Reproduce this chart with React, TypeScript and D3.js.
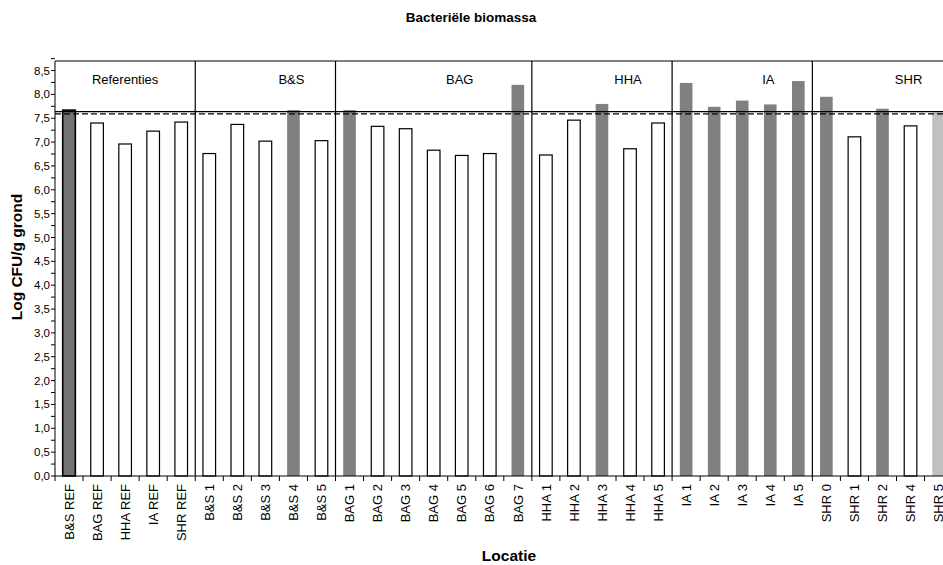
import React from "react";
import * as d3 from "d3";

const categories = [
  "B&S REF", "BAG REF", "HHA REF", "IA REF", "SHR REF",
  "B&S 1", "B&S 2", "B&S 3", "B&S 4", "B&S 5",
  "BAG 1", "BAG 2", "BAG 3", "BAG 4", "BAG 5", "BAG 6", "BAG 7",
  "HHA 1", "HHA 2", "HHA 3", "HHA 4", "HHA 5",
  "IA 1", "IA 2", "IA 3", "IA 4", "IA 5",
  "SHR 0", "SHR 1", "SHR 2", "SHR 4", "SHR 5",
];
const values = [
  7.67, 7.4, 6.96, 7.23, 7.42,
  6.76, 7.37, 7.02, 7.67, 7.03,
  7.67, 7.33, 7.28, 6.83, 6.72, 6.76, 8.2,
  6.73, 7.46, 7.8, 6.86, 7.4,
  8.24, 7.74, 7.87, 7.79, 8.28,
  7.95, 7.11, 7.7, 7.34, 7.62,
];
// bar style: "ref" dark with border, "hi" gray, "lo" white, "last" light gray
const barKinds = [
  "ref", "lo", "lo", "lo", "lo",
  "lo", "lo", "lo", "hi", "lo",
  "hi", "lo", "lo", "lo", "lo", "lo", "hi",
  "lo", "lo", "hi", "lo", "lo",
  "hi", "hi", "hi", "hi", "hi",
  "hi", "lo", "hi", "lo", "last",
];
const groups = ["Referenties", "B&S", "BAG", "HHA", "IA", "SHR"];
const groupSizes = [5, 5, 7, 5, 5, 5];
const yTicks = d3.range(0, 8.51, 0.5);
const yMinorTicks = d3.range(0, 8.76, 0.25);
const refSolid = 7.64;
const refDashed = 7.59;

const W = 943, H = 565;
const left = 55, catW = 28.05;
const right = left + categories.length * catW;
const top = 61, bottom = 476;

export default function App() {
  const x = d3.scaleBand<string>().domain(categories).range([left, right]).paddingInner(0).paddingOuter(0);
  const y = d3.scaleLinear().domain([0, 8.7]).range([bottom, top]);
  const bw = x.bandwidth() * 0.45;
  const font = "Liberation Sans, Arial, sans-serif";

  const starts: number[] = [];
  let acc = 0;
  groupSizes.forEach((s) => { starts.push(acc); acc += s; });

  const fillFor = (k: string) => k === "ref" ? "#727272" : k === "hi" ? "#808080" : k === "last" ? "#c0c0c0" : "#ffffff";

  return (
    <svg width={W} height={H} style={{ position: "absolute", left: 0, top: 0, background: "#fff" }} fontFamily={font}>
      <rect x={0} y={0} width={W} height={H} fill="#fff" />
      <text x={471} y={22} textAnchor="middle" fontSize={13.5} fontWeight="bold">Bacteriële biomassa</text>

      {categories.map((c, i) => {
        const k = barKinds[i];
        const cx = (x(c) as number) + x.bandwidth() / 2;
        const yy = y(values[i]);
        const stroke = k === "ref" || k === "lo" ? "#000" : "none";
        return (
          <rect key={c} x={cx - bw / 2} y={yy} width={bw} height={bottom - yy}
            fill={fillFor(k)} stroke={stroke} strokeWidth={k === "ref" ? 1.6 : 1.2} />
        );
      })}

      <line x1={left} x2={right} y1={y(refSolid)} y2={y(refSolid)} stroke="#000" strokeWidth={1.2} />
      <line x1={left} x2={right} y1={y(refDashed)} y2={y(refDashed)} stroke="#000" strokeWidth={1.2} strokeDasharray="6,3" />

      <line x1={left} x2={right} y1={top} y2={top} stroke="#000" strokeWidth={1} />
      <line x1={left} x2={left} y1={top} y2={bottom} stroke="#000" strokeWidth={1} />
      <line x1={left} x2={right} y1={bottom} y2={bottom} stroke="#000" strokeWidth={1} />

      {groups.map((g, gi) => {
        const s = starts[gi];
        const e = s + groupSizes[gi];
        const x0 = x(categories[s]) as number;
        const x1 = e < categories.length ? (x(categories[e]) as number) : right;
        const cx = (x0 + x1) / 2 + (gi === 0 ? 0 : catW * 0.93);
        return (
          <g key={g}>
            {gi > 0 && <line x1={x0} x2={x0} y1={top} y2={bottom} stroke="#000" strokeWidth={1.2} />}
            <text x={cx} y={84} textAnchor="middle" fontSize={13}>{g}</text>
          </g>
        );
      })}

      {yMinorTicks.map((t) => (
        <line key={"m" + t} x1={left - 4} x2={left} y1={y(t)} y2={y(t)} stroke="#000" strokeWidth={1} />
      ))}
      {yTicks.map((t) => (
        <text key={"t" + t} x={left - 5} y={y(t)} dy="0.35em" textAnchor="end" fontSize={11.5}>
          {d3.format(".1f")(t).replace(".", ",")}
        </text>
      ))}

      {d3.range(0, categories.length + 1).map((i) => (
        <line key={"xt" + i} x1={left + i * catW} x2={left + i * catW} y1={bottom} y2={bottom + 5} stroke="#000" strokeWidth={1} />
      ))}
      {categories.map((c) => {
        const cx = (x(c) as number) + x.bandwidth() / 2;
        return (
          <text key={"l" + c} transform={`translate(${cx},484) rotate(-90)`} dy="0.36em" textAnchor="end" fontSize={13}>{c}</text>
        );
      })}

      <text transform={`translate(22,257) rotate(-90)`} textAnchor="middle" fontSize={15.5} fontWeight="bold">Log CFU/g grond</text>
      <text x={509} y={561} textAnchor="middle" fontSize={15.5} fontWeight="bold">Locatie</text>
    </svg>
  );
}
